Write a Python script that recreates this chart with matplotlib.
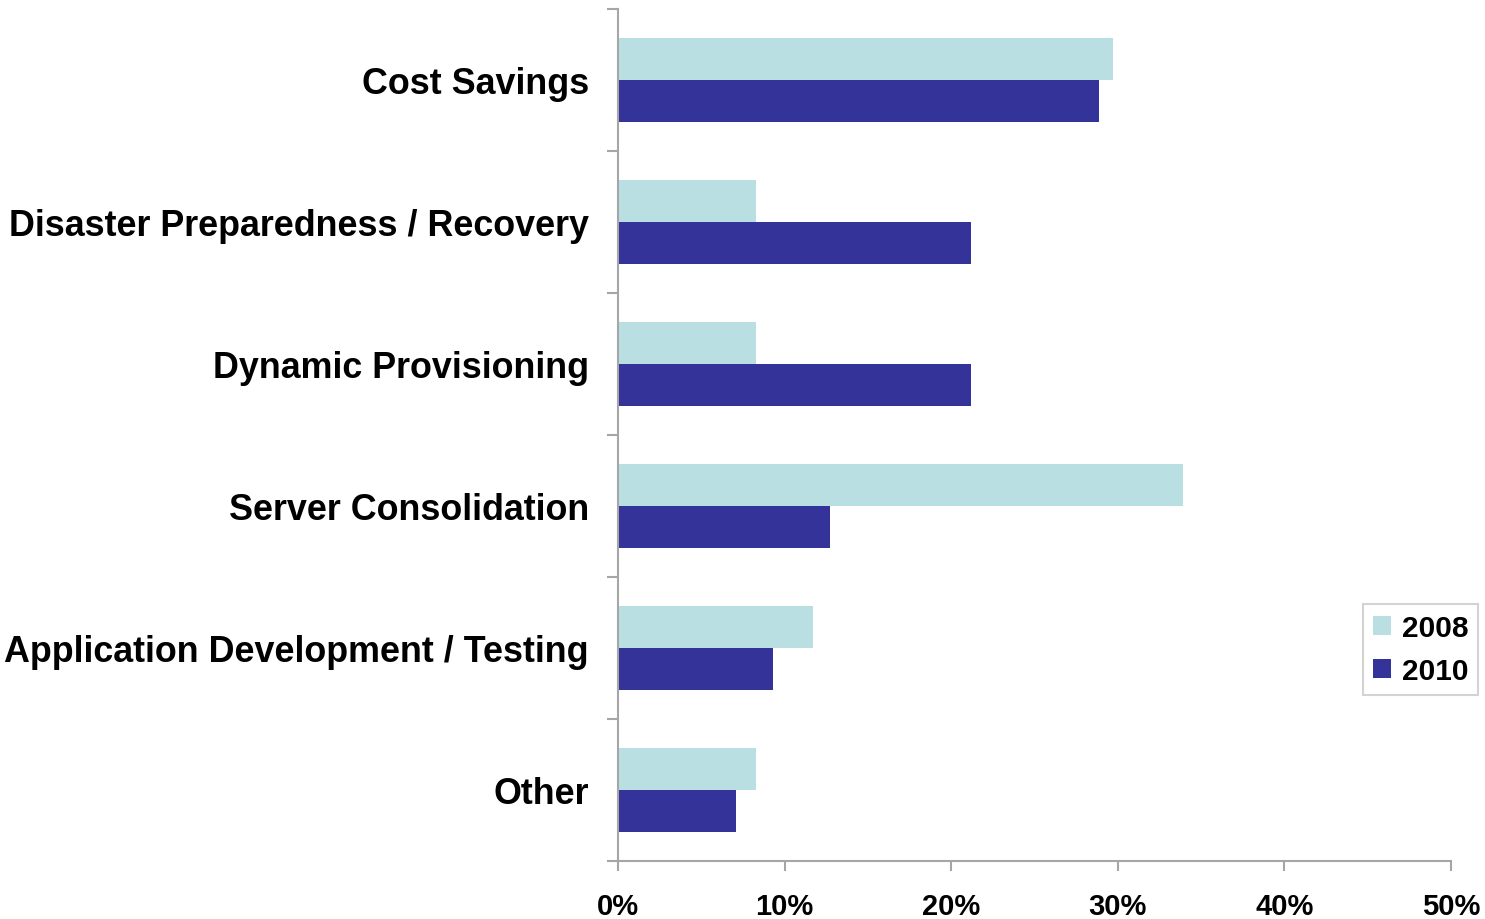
import matplotlib.pyplot as plt
import numpy as np

categories = ["Cost Savings", "Disaster Preparedness / Recovery", "Dynamic Provisioning",
              "Server Consolidation", "Application Development / Testing", "Other"]
vals_2008 = [29.7, 8.3, 8.3, 33.9, 11.7, 8.3]
vals_2010 = [28.9, 21.2, 21.2, 12.7, 9.3, 7.1]
x_ticks = [0, 10, 20, 30, 40, 50]

plt.rcParams['font.family'] = ['Liberation Sans', 'DejaVu Sans']
plt.rcParams['font.weight'] = 'bold'

fig = plt.figure(figsize=(14.85, 9.2), dpi=100)
ax = fig.add_axes([618/1485, 58/920, (1451-618)/1485, (862-10)/920])

gray = '#a6a6a6'
n = len(categories)
pos = np.arange(n)
h = 0.296
ax.barh(pos - h/2, vals_2008, height=h, color='#b9dfe2', label='2008')
ax.barh(pos + h/2, vals_2010, height=h, color='#333399', label='2010')

ax.set_ylim(n - 0.5, -0.5)
ax.set_xlim(0, 50)
ax.set_yticks(pos)
ax.set_yticklabels(categories, fontsize=25.8, fontweight='bold')
ax.set_yticks(np.arange(n + 1) - 0.5, minor=True)
ax.tick_params(axis='y', which='major', length=0, pad=21)
ax.tick_params(axis='y', which='minor', length=8, width=1.5, color=gray, direction='out')
ax.set_xticks(x_ticks)
ax.set_xticklabels([f"{t}%" for t in x_ticks], fontsize=21, fontweight='bold')
ax.tick_params(axis='x', length=7, width=1.5, color=gray, pad=15)

for s in ['top', 'right']:
    ax.spines[s].set_visible(False)
for s in ['left', 'bottom']:
    ax.spines[s].set_color(gray)
    ax.spines[s].set_linewidth(1.5)

leg = ax.legend(loc='upper left', bbox_to_anchor=(1363/1485, (920-605)/920),
                bbox_transform=fig.transFigure, fontsize=21.5, frameon=True,
                fancybox=False, handlelength=0.6, handleheight=0.6, handletextpad=0.35,
                borderpad=0.34, labelspacing=0.5, borderaxespad=0)
leg.get_frame().set_edgecolor('#c8c8c8')
leg.get_frame().set_linewidth(1.5)
for t in leg.get_texts():
    t.set_fontweight('bold')

fig.savefig("out.png", dpi=100)
